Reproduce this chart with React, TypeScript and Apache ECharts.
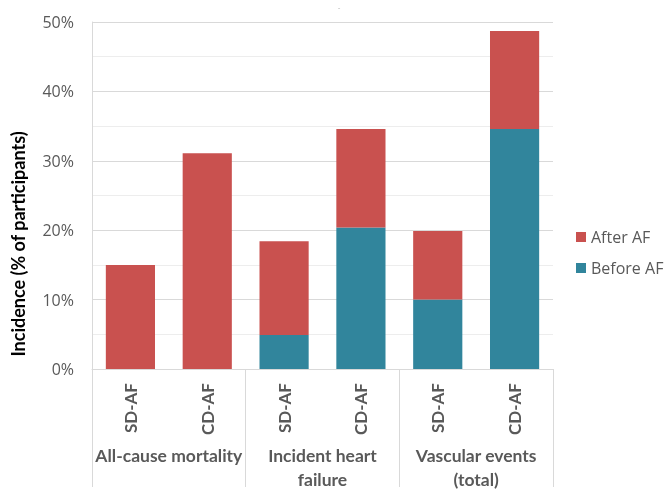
import React, { useEffect, useRef } from "react";
import * as echarts from "echarts";

const groups = ["All-cause mortality", "Incident heart\nfailure", "Vascular events\n(total)"];
const subgroups = ["SD-AF", "CD-AF"];
const beforeAF = [0, 0, 4.9, 20.4, 10.0, 34.6];
const afterAF = [15.0, 31.1, 13.5, 14.2, 9.9, 14.1];
const yTicks = { min: 0, max: 50, interval: 10 };
const yTitle = "Incidence (% of participants)";

const RED = "#C9514F";
const TEAL = "#31859C";
const GRAY = "#595959";

export default function App() {
  const ref = useRef<HTMLDivElement>(null);
  useEffect(() => {
    if (!ref.current) return;
    const chart = echarts.init(ref.current, undefined, { renderer: "svg" });
    const cats: string[] = [];
    groups.forEach((g, gi) => subgroups.forEach((s) => cats.push(s + "|" + gi)));
    chart.setOption({
      animation: false,
      grid: { left: 92, right: 115, top: 22, bottom: 118, containLabel: false },
      legend: {
        orient: "vertical",
        left: 576,
        top: 227,
        padding: 0,
        itemWidth: 10,
        itemHeight: 10,
        itemGap: 11,
        icon: "rect",
        data: ["After AF", "Before AF"],
        textStyle: { color: GRAY, fontSize: 16, fontFamily: "Open Sans", lineHeight: 20 },
      },
      xAxis: [
        {
          type: "category",
          data: cats,
          axisLine: { lineStyle: { color: "#d9d9d9" } },
          axisTick: { show: false },
          axisLabel: {
            rotate: 90,
            margin: 14,
            interval: 0,
            color: GRAY,
            fontWeight: "bold",
            fontSize: 17,
            fontFamily: "Lato",
            formatter: (v: string) => v.split("|")[0],
          },
        },
        {
          type: "category",
          data: groups,
          position: "bottom",
          axisLine: { show: false },
          axisTick: { show: true, length: 118, interval: 0, lineStyle: { color: "#d9d9d9" } },
          axisLabel: {
            margin: 74,
            interval: 0,
            color: GRAY,
            fontWeight: "bold",
            fontSize: 17.5,
            lineHeight: 24,
            fontFamily: "Lato",
          },
        },
      ],
      yAxis: {
        type: "value",
        min: yTicks.min,
        max: yTicks.max,
        interval: yTicks.interval,
        axisLine: { show: true, lineStyle: { color: "#d9d9d9" } },
        axisTick: { show: false },
        axisLabel: { formatter: "{value}%", margin: 18, color: GRAY, fontSize: 16, fontFamily: "Open Sans" },
        splitLine: { lineStyle: { color: "#d9d9d9" } },
        minorTick: { show: false, splitNumber: 2 },
        minorSplitLine: { show: true, lineStyle: { color: "#ededed" } },
      },
      series: [
        {
          name: "Before AF",
          type: "bar",
          stack: "total",
          barCategoryGap: "36%",
          itemStyle: { color: TEAL },
          data: beforeAF,
        },
        {
          name: "After AF",
          type: "bar",
          stack: "total",
          barCategoryGap: "36%",
          itemStyle: { color: RED },
          data: afterAF,
        },
      ],
      graphic: [
        {
          type: "text",
          x: 18,
          y: 244,
          rotation: Math.PI / 2,
          style: {
            text: yTitle,
            fontSize: 18,
            fontWeight: "bold",
            fontFamily: "Lato",
            fill: "#000",
            align: "center",
            verticalAlign: "middle",
          },
        },
        {
          type: "text",
          x: 339,
          y: 7,
          style: { text: "-", fontSize: 8, fill: "#bbbbbb", align: "center", verticalAlign: "middle" },
        },
      ],
    });
    return () => chart.dispose();
  }, []);
  return <div ref={ref} style={{ position: "fixed", left: 0, top: 0, width: 668, height: 491 }} />;
}
